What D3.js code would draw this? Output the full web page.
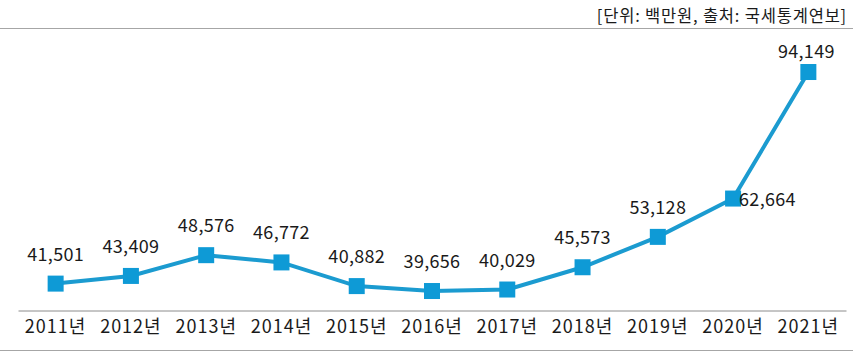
<!DOCTYPE html>
<html><head><meta charset="utf-8">
<script src="https://cdn.jsdelivr.net/npm/d3@7"></script>
<style>body{margin:0;background:#fff}svg{display:block}text{font-family:"Noto Sans CJK KR","Noto Sans",sans-serif;fill:#1a1a1a}</style>
</head><body>
<svg id="c" width="860" height="357"></svg>
<script>
const years = ["2011년","2012년","2013년","2014년","2015년","2016년","2017년","2018년","2019년","2020년","2021년"];
const values = [41501,43409,48576,46772,40882,39656,40029,45573,53128,62664,94149];
const labels = ["41,501","43,409","48,576","46,772","40,882","39,656","40,029","45,573","53,128","62,664","94,149"];
const unitText = "[단위: 백만원, 출처: 국세통계연보]";

const svg = d3.select("#c");
const x = d3.scaleBand().domain(years).range([18, 846]);
const y = d3.scaleLinear().domain([0, 100000]).range([450.4, 48.5]);
const cx = d => x(d) + x.bandwidth()/2;

svg.append("line").attr("x1",0).attr("x2",853).attr("y1",28.5).attr("y2",28.5).attr("stroke","#a6a6a6").attr("stroke-width",1);
svg.append("line").attr("x1",0).attr("x2",853).attr("y1",350.5).attr("y2",350.5).attr("stroke","#a6a6a6").attr("stroke-width",1);

svg.append("text").attr("x",847).attr("y",22).attr("text-anchor","end").attr("font-size",16.5)
  .attr("letter-spacing",0.8).text(unitText);

const ax = svg.append("g").attr("transform","translate(0,310.5)").call(d3.axisBottom(x).tickSize(0).tickPadding(10));
ax.select(".domain").attr("stroke","#8c8c8c");
ax.selectAll("text").attr("font-size",18).attr("letter-spacing",1).attr("fill","#1a1a1a").style("font-family",'"Noto Sans CJK KR","Noto Sans",sans-serif');

const data = years.map((d,i)=>({d, v:values[i], l:labels[i], i}));
svg.append("path").datum(data)
  .attr("d", d3.line().x(p=>cx(p.d)).y(p=>y(p.v)))
  .attr("fill","none").attr("stroke","#1b9bd0").attr("stroke-width",4);

svg.selectAll("rect.m").data(data).join("rect").attr("class","m")
  .attr("x",p=>cx(p.d)-8).attr("y",p=>y(p.v)-8).attr("width",16).attr("height",16)
  .attr("fill","#0e9ad6");

svg.selectAll("text.lab").data(data).join("text").attr("class","lab")
  .attr("x",p=> p.i===9 ? cx(p.d)+6 : cx(p.d)+ (p.i===10?-2:0))
  .attr("y",p=> p.i===9 ? y(p.v)+7 : y(p.v) - (p.i===10?14:23))
  .attr("text-anchor",p=> p.i===9 ? "start":"middle")
  .attr("font-size",18).attr("letter-spacing",0.3).text(p=>p.l);
</script>
</body></html>
